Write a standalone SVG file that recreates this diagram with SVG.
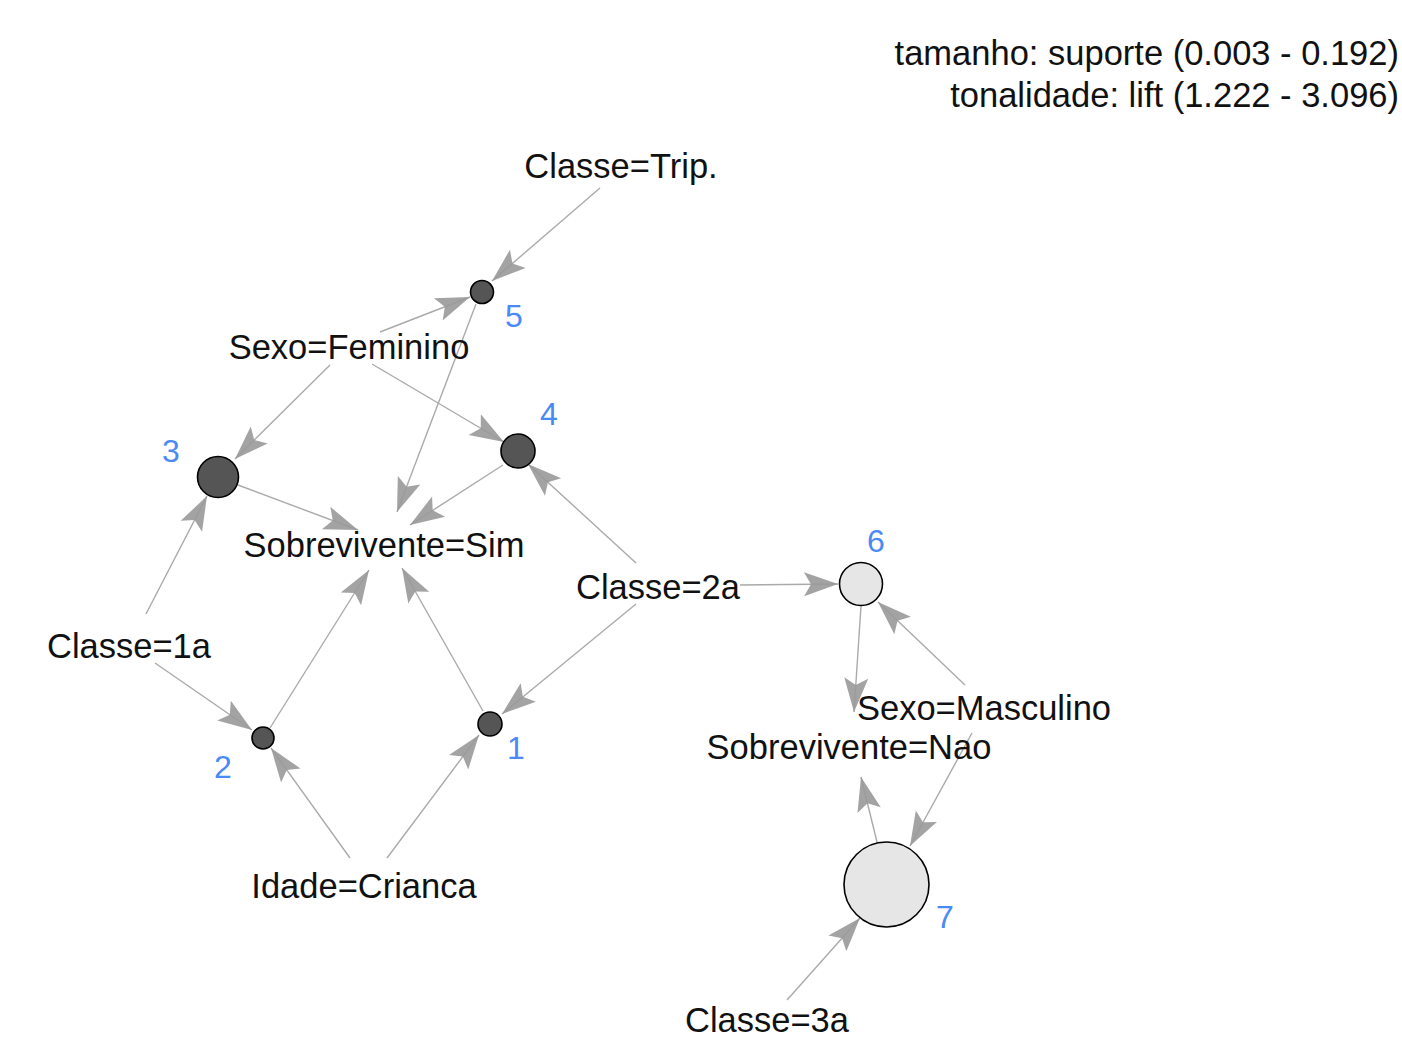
<svg xmlns="http://www.w3.org/2000/svg" width="1402" height="1038" viewBox="0 0 1402 1038">
<style>
text{font-family:"Liberation Sans",Arial,sans-serif;}
.lbl{font-size:34.5px;fill:#111;text-anchor:middle;}
.num{font-size:32px;fill:#4a8af4;text-anchor:middle;}
.leg{font-size:34.5px;fill:#111;text-anchor:end;}
.e{stroke:#aaaaaa;stroke-width:1.4;fill:none;marker-end:url(#ah);}
.dk{fill:#555555;stroke:#000;stroke-width:1.6;}
.lt{fill:#e6e6e6;stroke:#000;stroke-width:1.6;}
</style>
<defs>
<marker id="ah" markerUnits="userSpaceOnUse" viewBox="-35 -13 36 26" refX="0" refY="0" markerWidth="36" markerHeight="26" orient="auto">
<path d="M0,0 L-34,-12 L-27,0 L-34,12 Z" fill="#999999" fill-opacity="0.9"/>
</marker>
</defs>
<rect width="1402" height="1038" fill="#ffffff"/>
<g id="legend">
<text class="leg" x="1399" y="65">tamanho: suporte (0.003 - 0.192)</text>
<text class="leg" x="1399" y="107">tonalidade: lift (1.222 - 3.096)</text>
</g>
<g id="edges">
<line class="e" x1="600" y1="188" x2="492" y2="281"/>
<line class="e" x1="380" y1="332" x2="470" y2="297"/>
<line class="e" x1="476" y1="304" x2="397" y2="512"/>
<line class="e" x1="372" y1="364" x2="504" y2="442"/>
<line class="e" x1="330" y1="365" x2="235" y2="459"/>
<line class="e" x1="503" y1="465" x2="410" y2="525"/>
<line class="e" x1="238" y1="485" x2="358" y2="530"/>
<line class="e" x1="636" y1="563" x2="528" y2="464"/>
<line class="e" x1="146" y1="614" x2="207" y2="496"/>
<line class="e" x1="155" y1="663" x2="252" y2="730"/>
<line class="e" x1="270" y1="728" x2="369" y2="570"/>
<line class="e" x1="483" y1="711" x2="402" y2="568"/>
<line class="e" x1="636" y1="604" x2="502" y2="714"/>
<line class="e" x1="350" y1="858" x2="271" y2="748"/>
<line class="e" x1="387" y1="858" x2="479" y2="735"/>
<line class="e" x1="740" y1="585" x2="838" y2="584"/>
<line class="e" x1="861" y1="606" x2="854" y2="712"/>
<line class="e" x1="965" y1="685" x2="878" y2="602"/>
<line class="e" x1="877" y1="842" x2="861" y2="777"/>
<line class="e" x1="972" y1="733" x2="910" y2="846"/>
<line class="e" x1="787" y1="1000" x2="860" y2="918"/>
</g>
<g id="rule1"><circle class="dk" cx="490" cy="724" r="12"/><text class="num" x="516" y="759">1</text></g>
<g id="rule2"><circle class="dk" cx="263" cy="738" r="11"/><text class="num" x="223" y="778">2</text></g>
<g id="rule3"><circle class="dk" cx="218" cy="477" r="20.5"/><text class="num" x="171" y="462">3</text></g>
<g id="rule4"><circle class="dk" cx="518" cy="451" r="17"/><text class="num" x="549" y="425">4</text></g>
<g id="rule5"><circle class="dk" cx="482" cy="292" r="11.5"/><text class="num" x="514" y="327">5</text></g>
<g id="rule6"><circle class="lt" cx="861" cy="584" r="21.5"/><text class="num" x="876" y="552">6</text></g>
<g id="rule7"><circle class="lt" cx="886.5" cy="884.5" r="42.5"/><text class="num" x="945" y="928">7</text></g>
<g id="classe_trip"><text class="lbl" x="621" y="178">Classe=Trip.</text></g>
<g id="sexo_feminino"><text class="lbl" x="349" y="359">Sexo=Feminino</text></g>
<g id="sobrevivente_sim"><text class="lbl" x="384" y="557">Sobrevivente=Sim</text></g>
<g id="classe_2a"><text class="lbl" x="658" y="599">Classe=2a</text></g>
<g id="classe_1a"><text class="lbl" x="129" y="658">Classe=1a</text></g>
<g id="sexo_masculino"><text class="lbl" x="984" y="720">Sexo=Masculino</text></g>
<g id="sobrevivente_nao"><text class="lbl" x="849" y="759">Sobrevivente=Nao</text></g>
<g id="idade_crianca"><text class="lbl" x="364" y="898">Idade=Crianca</text></g>
<g id="classe_3a"><text class="lbl" x="767" y="1032">Classe=3a</text></g>
</svg>
